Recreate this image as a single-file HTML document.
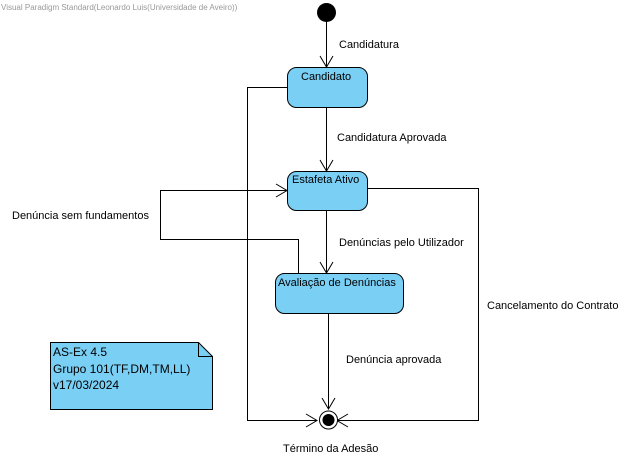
<!DOCTYPE html>
<html><head><meta charset="utf-8"><style>
body{margin:0;width:634px;height:458px;background:#fff;overflow:hidden}
svg{display:block;font-family:"Liberation Sans",sans-serif}
</style></head><body>
<svg width="634" height="458" viewBox="0 0 634 458">
<text x="1" y="10" font-size="8" fill="#999">Visual Paradigm Standard(Leonardo Luis(Universidade de Aveiro))</text>
<g stroke="#000" stroke-width="1" fill="none">
<!-- initial to candidato -->
<line x1="326.5" y1="18" x2="326.5" y2="67"/>
<polyline points="320,56 326.5,67 333,56"/>
<!-- candidato to estafeta -->
<line x1="326.5" y1="107" x2="326.5" y2="171"/>
<polyline points="320,160 326.5,171 333,160"/>
<!-- estafeta to avaliacao -->
<line x1="326.5" y1="210" x2="326.5" y2="273"/>
<polyline points="320,262 326.5,273 333,262"/>
<!-- avaliacao to final -->
<line x1="328.5" y1="313" x2="328.5" y2="409"/>
<polyline points="322,398 328.5,409 335,398"/>
<!-- left loop from candidato -->
<polyline points="287,87.5 247.5,87.5 247.5,420.5 317,420.5"/>
<polyline points="306,414 317,420.5 306,427"/>
<!-- right from estafeta -->
<polyline points="367,188.5 478.5,188.5 478.5,420.5 337,420.5"/>
<polyline points="348,414 337,420.5 348,427"/>
<!-- denuncia sem fundamentos loop -->
<polyline points="298.5,273 298.5,239.5 160.5,239.5 160.5,190.5 287,190.5"/>
<polyline points="276,184 287,190.5 276,197"/>
</g>
<circle cx="326.5" cy="12.5" r="9.5" fill="#000"/>
<circle cx="328.5" cy="420" r="9" fill="#fff" stroke="#000"/>
<circle cx="328.5" cy="420" r="6" fill="#000"/>
<rect x="287.5" y="67.5" width="80" height="40" rx="9" fill="#7acff5" stroke="#000"/>
<rect x="287.5" y="171.5" width="80" height="39" rx="9" fill="#7acff5" stroke="#000"/>
<rect x="275.5" y="273.5" width="128" height="40" rx="9" fill="#7acff5" stroke="#000"/>
<polygon points="50.5,342.5 198.5,342.5 212.5,356.5 212.5,409.5 50.5,409.5" fill="#7acff5" stroke="#000"/>
<polyline points="198.5,342.5 198.5,356.5 212.5,356.5" fill="none" stroke="#000"/>
<g font-size="11" fill="#000">
<text x="301" y="80">Candidato</text>
<text x="292" y="183">Estafeta Ativo</text>
<text x="278" y="286">Avaliação de Denúncias</text>
<text x="339" y="48">Candidatura</text>
<text x="337" y="141">Candidatura Aprovada</text>
<text x="339" y="246">Denúncias pelo Utilizador</text>
<text x="346" y="363">Denúncia aprovada</text>
<text x="12" y="219">Denúncia sem fundamentos</text>
<text x="487" y="309">Cancelamento do Contrato</text>
<text x="283" y="452">Término da Adesão</text>
<text x="53" y="356" font-size="12">AS-Ex 4.5</text>
<text x="53" y="373" font-size="12">Grupo 101(TF,DM,TM,LL)</text>
<text x="53" y="389" font-size="12">v17/03/2024</text>
</g>
</svg>
</body></html>
